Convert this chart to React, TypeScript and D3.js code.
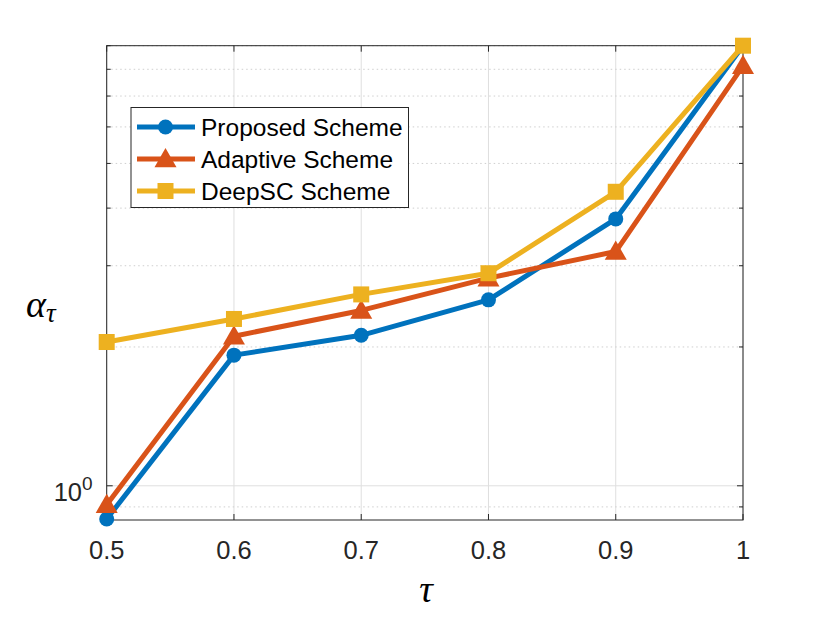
import * as d3 from 'd3'

// tau values on the x axis
const taus = [0.5, 0.6, 0.7, 0.8, 0.9, 1]

// alpha_tau values
const proposed = [0.847, 1.92, 2.12, 2.53, 3.79, 9.0]
const adaptive = [0.91, 2.11, 2.4, 2.82, 3.22, 8.14]
const deepsc = [2.05, 2.3, 2.6, 2.89, 4.34, 9.0]

const xTickLabels = ['0.5', '0.6', '0.7', '0.8', '0.9', '1']
const yMinorTicks = [0.9, 2, 3, 4, 5, 6, 7, 8, 9]

const seriesNames = ['Proposed Scheme', 'Adaptive Scheme', 'DeepSC Scheme']

const W = 822
const H = 617
const margin = { top: 45.7, right: 79, bottom: 97, left: 106.7 }

const x = d3.scaleLinear().domain([0.5, 1]).range([margin.left, W - margin.right])
const y = d3.scaleLog().domain([0.843, 9]).range([H - margin.bottom, margin.top])

const axisColor = '#262626'
const gridColor = '#dfdfdf'
const font = 'Liberation Sans, Arial, Helvetica, sans-serif'
const mathFont = 'Liberation Serif, Times New Roman, serif'

const series = [
	{ name: seriesNames[0], values: proposed, color: '#0072BD', marker: 'circle' },
	{ name: seriesNames[1], values: adaptive, color: '#D95319', marker: 'triangle' },
	{ name: seriesNames[2], values: deepsc, color: '#EDB120', marker: 'square' },
]

const Marker = ({ kind, cx, cy, color }) => {
	if (kind === 'circle') return <circle cx={cx} cy={cy} r={7.5} fill={color} />
	if (kind === 'square') return <rect x={cx - 8} y={cy - 8} width={16} height={16} fill={color} />
	const s = 11
	return (
		<path
			d={`M${cx},${cy - s} L${cx + s},${cy + s * 0.75} L${cx - s},${cy + s * 0.75} Z`}
			fill={color}
		/>
	)
}

const App = () => {
	const line = d3
		.line<number>()
		.x((_, i) => x(taus[i]))
		.y((d) => y(d))

	const x0 = x.range()[0]
	const x1 = x.range()[1]
	const yb = y.range()[0]
	const yt = y.range()[1]
	const tick = 6

	return (
		<svg width={W} height={H} style={{ display: 'block', position: 'absolute', left: 0, top: 0 }}>
			<rect width={W} height={H} fill="white" />

			{/* grid */}
			{taus.map((t) => (
				<line key={'gx' + t} x1={x(t)} x2={x(t)} y1={yb} y2={yt} stroke={gridColor} strokeWidth={1} />
			))}
			<line x1={x0} x2={x1} y1={y(1)} y2={y(1)} stroke={gridColor} strokeWidth={1} />
			{yMinorTicks.map((v) => (
				<line
					key={'gy' + v}
					x1={x0}
					x2={x1}
					y1={y(v)}
					y2={y(v)}
					stroke="#cfcfcf"
					strokeWidth={1}
					strokeDasharray="1.5,3"
				/>
			))}

			{/* axes box */}
			<rect x={x0} y={yt} width={x1 - x0} height={yb - yt} fill="none" stroke={axisColor} strokeWidth={1} />

			{/* ticks */}
			{taus.map((t) => (
				<g key={'tx' + t}>
					<line x1={x(t)} x2={x(t)} y1={yb} y2={yb - tick} stroke={axisColor} />
					<line x1={x(t)} x2={x(t)} y1={yt} y2={yt + tick} stroke={axisColor} />
				</g>
			))}
			{[1, ...yMinorTicks].map((v) => {
				const len = v === 1 ? tick : 4
				return (
					<g key={'ty' + v}>
						<line x1={x0} x2={x0 + len} y1={y(v)} y2={y(v)} stroke={axisColor} />
						<line x1={x1} x2={x1 - len} y1={y(v)} y2={y(v)} stroke={axisColor} />
					</g>
				)
			})}

			{/* tick labels */}
			{taus.map((t, i) => (
				<text
					key={'lx' + t}
					x={x(t)}
					y={558.5}
					textAnchor="middle"
					fontFamily={font}
					fontSize={25.5}
					fill={axisColor}
				>
					{xTickLabels[i]}
				</text>
			))}
			<text x={82} y={y(1) + 15} textAnchor="end" fontFamily={font} fontSize={25.5} fill={axisColor}>
				10
			</text>
			<text x={82} y={y(1) + 4.5} textAnchor="start" fontFamily={font} fontSize={19} fill={axisColor}>
				0
			</text>

			{/* axis labels */}
			<text x={426} y={602} textAnchor="middle" fontFamily={mathFont} fontStyle="italic" fontSize={38} fill="#000">
				τ
			</text>
			<text x={26} y={317} fontFamily={mathFont} fontStyle="italic" fontSize={38} fill="#000">
				α
				<tspan fontSize={27} dy={5}>
					τ
				</tspan>
			</text>

			{/* series */}
			{series.map((s) => (
				<g key={s.name}>
					<path d={line(s.values)} fill="none" stroke={s.color} strokeWidth={5} strokeLinejoin="round" />
					{s.values.map((v, i) => (
						<Marker key={i} kind={s.marker} cx={x(taus[i])} cy={y(v)} color={s.color} />
					))}
				</g>
			))}

			{/* legend */}
			<g>
				<rect x={131} y={107.5} width={277.5} height={100} fill="white" stroke={axisColor} strokeWidth={1} />
				{series.map((s, i) => {
					const cy = 127 + i * 32
					return (
						<g key={'lg' + s.name}>
							<line x1={137} x2={195} y1={cy} y2={cy} stroke={s.color} strokeWidth={5} />
							<Marker kind={s.marker} cx={165.5} cy={cy} color={s.color} />
							<text x={201} y={cy + 9} fontFamily={font} fontSize={24.5} fill="#000">
								{s.name}
							</text>
						</g>
					)
				})}
			</g>
		</svg>
	)
}

export default App
